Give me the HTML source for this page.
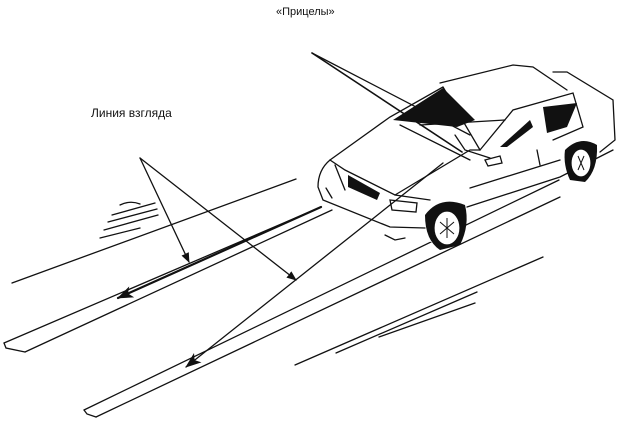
<!DOCTYPE html>
<html><head><meta charset="utf-8"><style>
html,body{margin:0;padding:0;background:#fff;}
svg{display:block;}
text{font-family:"Liberation Sans","DejaVu Sans",sans-serif;fill:#111;}
</style></head><body>
<svg width="620" height="422" viewBox="0 0 620 422" xmlns="http://www.w3.org/2000/svg">
<defs>
<marker id="a" markerWidth="10" markerHeight="8" refX="9" refY="4" orient="auto" markerUnits="userSpaceOnUse"><path d="M0,0 L10,4 L0,8 Z" fill="#111"/></marker>
<marker id="b" markerWidth="16" markerHeight="12" refX="15" refY="6" orient="auto" markerUnits="userSpaceOnUse"><path d="M0,0 L16,6 L0,12 L4,6 Z" fill="#111"/></marker>
</defs>
<text x="276" y="15" font-size="11">«Прицелы»</text>
<text x="91" y="117" font-size="12">Линия взгляда</text>
<g stroke="#111" fill="none" stroke-linecap="round" stroke-width="1.3">
<path d="M12,283 L296,179"/>
<path d="M4,343 L321,207"/>
<path d="M25,352 L332,210"/>
<path d="M4,343 L6,348 L25,352"/>
<path d="M84,410 L559,180"/>
<path d="M96,417 L560,197"/>
<path d="M84,410 L87,414 L96,417"/>
<path d="M295,365 L543,257"/>
<path d="M336,353 L477,292"/>
<path d="M379,337 L475,303"/>
<path d="M120,205 Q130,200 140,204 M112,215 L155,203 M108,222 L157,209 M104,230 L158,215 M100,238 L140,228"/>
<path d="M140,158 L189,262" marker-end="url(#a)"/>
<path d="M140,158 L296,280" marker-end="url(#a)"/>
</g>
<!-- car white backing -->
<path d="M318,175 L330,158 L390,115 L440,83 L513,65 L533,67 L553,72 L567,72 L613,100 L615,140 L600,152 L560,177 L467,207 L440,245 L425,240 L390,230 L323,202 Z" fill="#fff"/>
<g stroke="#111" fill="none" stroke-linecap="round" stroke-width="1.3">
<path d="M321,207 L118,298" stroke-width="2.2" marker-end="url(#b)"/>
<path d="M443,163 L186,367" marker-end="url(#b)"/>
<path d="M312,53 L462,152" stroke-width="1.6"/>
<path d="M312,53 L470,135"/>
<path d="M330,160 L390,117 L443,87"/>
<path d="M440,83 L513,65 L533,67 L567,90"/>
<path d="M553,72 L567,72 L613,100 L615,140 L600,152"/>
<path d="M480,150 L513,110 L573,93 L583,127 L553,140"/>
<path d="M443,87 L480,150"/>
<path d="M330,160 Q318,170 318,187 L323,200 L390,227 L425,228"/>
<path d="M330,160 L345,170 L395,195 L430,200"/>
<path d="M395,195 L470,150 L480,150"/>
<path d="M335,165 L345,190 M326,188 L332,198"/>
<path d="M390,200 L417,203 L416,212 L392,210 Z"/>
<path d="M467,207 L560,177 L613,150"/>
<path d="M470,188 L560,160"/>
<path d="M485,160 L500,156 L502,163 L488,166 Z"/>
<path d="M400,125 L470,160 M420,125 L505,120"/>
<path d="M455,135 L465,150 L490,158"/>
<path d="M385,235 L395,240 L405,238"/>
<path d="M537,150 L540,165"/>
</g>
<g fill="#111">
<path d="M393,120 L443,88 L475,120 L457,127 Z"/>
<path d="M500,147 L530,120 L533,127 L507,147 Z"/>
<path d="M543,107 L577,103 L567,127 L547,133 Z"/>
<path d="M348,175 L380,193 L377,200 L348,187 Z"/>
<path d="M425,215 Q440,195 465,205 Q470,225 460,245 L440,250 Q425,240 425,215 Z"/>
<path d="M565,150 Q580,135 597,145 Q598,170 585,182 L570,180 Q563,165 565,150 Z"/>
</g>
<g fill="#fff" stroke="#111" stroke-width="1.2">
<ellipse cx="447" cy="228" rx="13" ry="17"/>
<ellipse cx="581" cy="163" rx="10" ry="14"/>
</g>
<g stroke="#111" stroke-width="1">
<path d="M440,222 L454,234 M454,222 L440,234 M447,218 L447,238"/>
<path d="M578,156 L584,170 M584,156 L578,170"/>
</g>
</svg>
</body></html>
